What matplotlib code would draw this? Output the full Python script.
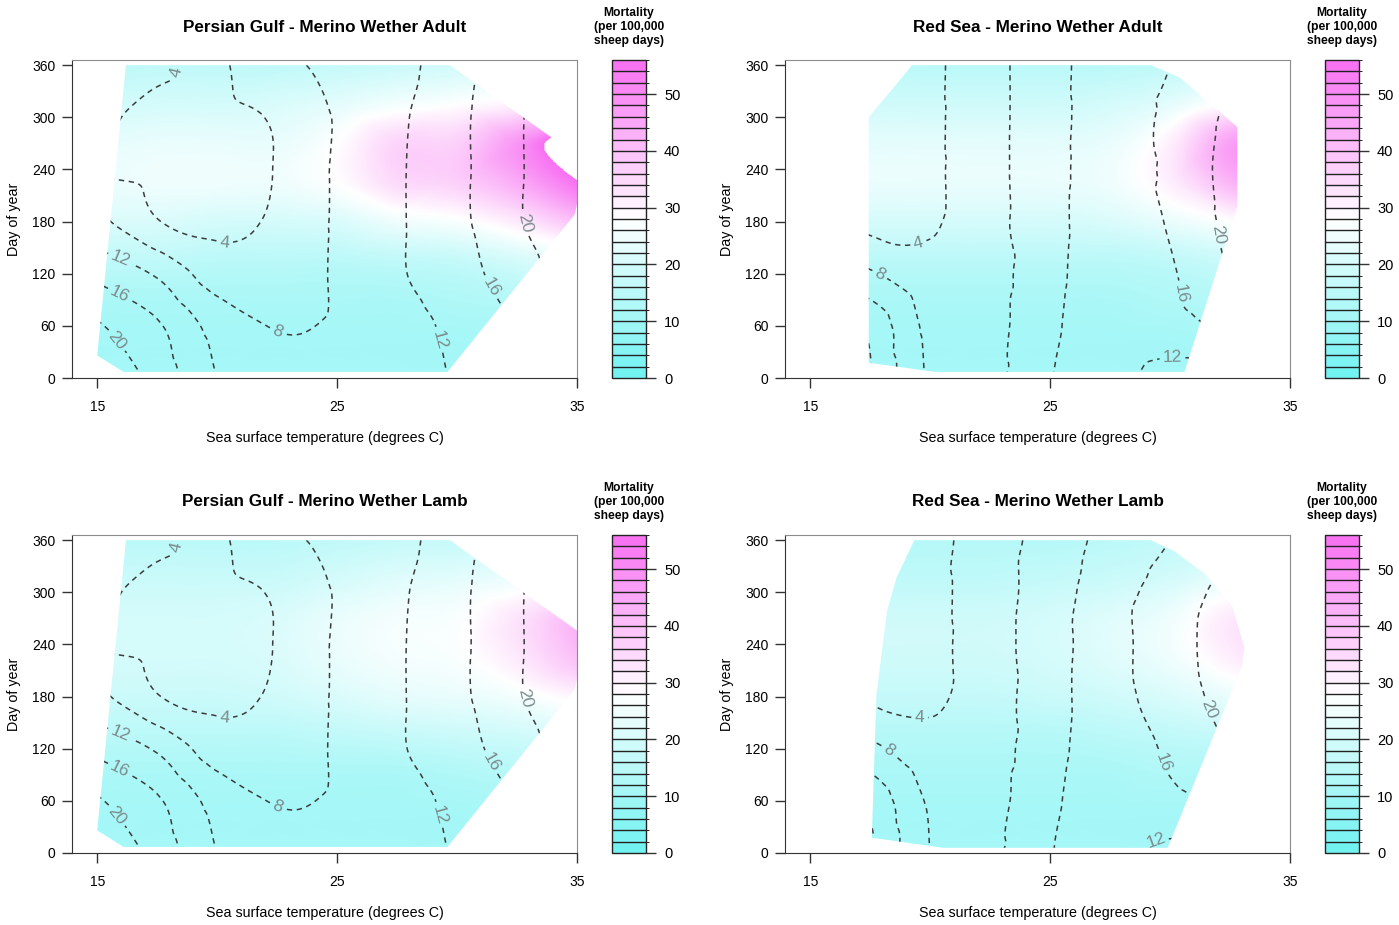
import numpy as np
import matplotlib
matplotlib.use('Agg')
import matplotlib.pyplot as plt
import matplotlib.tri as mtri
from matplotlib.colors import LinearSegmentedColormap, ListedColormap, BoundaryNorm
from matplotlib.cm import ScalarMappable
from matplotlib.patches import Polygon

plt.rcParams['font.family'] = ['Liberation Sans', 'DejaVu Sans']

# ---- data -------------------------------------------------------------
sst_nodes = [15, 17.5, 20, 22.5, 25, 27.5, 30, 32.5, 35]
mort_days = [0, 45, 90, 135, 180, 225, 270, 315, 360]
cont_days = [0, 60, 120, 180, 240, 300, 360]
contour_levels = [4, 8, 12, 16, 20]

titles = ['Persian Gulf - Merino Wether Adult', 'Red Sea - Merino Wether Adult',
          'Persian Gulf - Merino Wether Lamb', 'Red Sea - Merino Wether Lamb']

# sampled voyage envelope (sst, day)
pg_hull_sst = [15.0, 16.1, 29.6, 34.9, 35.0, 35.0, 29.7, 16.2]
pg_hull_day = [26, 7, 7, 188, 200, 256, 360, 360]
rs_adult_hull_sst = [17.44, 20.2, 30.6, 32.8, 32.8, 30.4, 29.2, 19.25, 17.44]
rs_adult_hull_day = [17.6, 7, 7, 197, 289, 346, 360, 360, 300]
rs_lamb_hull_sst = [17.57, 20.55, 29.9, 33.0, 33.1, 32.6, 31.5, 30.2, 29.2, 19.34, 18.6, 18.2, 17.76]
rs_lamb_hull_day = [17.6, 6, 6, 215, 236, 284, 320, 347, 360, 360, 317, 278, 182]

# predicted mortality (rows = mort_days, cols = sst_nodes)
pg_adult_mort = [
    [11, 11, 11, 11, 11, 11, 11, 11, 12],
    [11, 11, 11, 11, 11, 11, 11, 12, 13],
    [12, 12, 12, 12, 12, 12, 13, 14, 16],
    [16, 16, 15, 15, 15, 16, 17, 20, 24],
    [21, 21, 20, 20, 21, 25, 27, 32, 40],
    [24, 25, 25, 25, 28, 35, 37, 44, 55],
    [23, 24, 24, 24, 28, 36, 37, 48, 67],
    [19, 20, 20, 21, 23, 26, 28, 31, 37],
    [15, 16, 16, 16, 17, 18, 19, 20, 22],
]
rs_adult_mort = [
    [11, 11, 11, 11, 11, 11, 11, 11, 12],
    [11, 11, 11, 11, 11, 11, 11, 12, 13],
    [12, 12, 12, 12, 12, 12, 13, 14, 15],
    [15, 15, 15, 15, 15, 15, 16, 18, 20],
    [20, 20, 20, 20, 20, 21, 24, 28, 32],
    [23, 24, 24, 24, 24, 25, 31, 42, 50],
    [22, 23, 23, 23, 23, 24, 31, 46, 54],
    [18, 19, 19, 19, 19, 20, 23, 30, 36],
    [14, 15, 15, 15, 15, 15, 16, 18, 20],
]
pg_lamb_mort = [
    [11, 11, 11, 11, 11, 11, 11, 11, 11],
    [11, 11, 11, 11, 11, 11, 11, 12, 12],
    [12, 12, 12, 12, 12, 12, 13, 14, 15],
    [15, 15, 15, 15, 16, 17, 18, 19, 21],
    [18, 18, 18, 19, 21, 23, 24, 26, 30],
    [20, 20, 20, 21, 24, 26, 27, 32, 40],
    [20, 20, 20, 21, 24, 26, 27, 33, 42],
    [18, 18, 18, 18, 20, 22, 23, 25, 30],
    [15, 15, 15, 15, 16, 17, 17, 18, 20],
]
rs_lamb_mort = [
    [11, 11, 11, 11, 11, 11, 11, 11, 12],
    [11, 11, 11, 11, 11, 11, 11, 12, 12],
    [12, 12, 12, 12, 12, 12, 13, 13, 14],
    [14, 14, 14, 14, 14, 15, 16, 17, 18],
    [17, 17, 17, 17, 18, 19, 21, 24, 26],
    [19, 19, 19, 19, 20, 22, 25, 31, 36],
    [19, 19, 19, 19, 20, 22, 25, 32, 36],
    [16, 16, 16, 16, 17, 18, 20, 24, 27],
    [14, 14, 14, 14, 14, 15, 16, 17, 18],
]

# contoured surface (rows = cont_days, cols = sst_nodes)
pg_contour = [
    [25, 18.5, 12, 9, 9.5, 11, 12.5, 17, 22],
    [20.5, 16.5, 10.5, 7.8, 8.5, 10.5, 13, 16.5, 21],
    [15, 11.5, 6, 5.5, 8.5, 11.5, 14.5, 18, 22.5],
    [9, 4.2, 3.2, 4.6, 8.5, 11.5, 15, 19.5, 23.5],
    [3.6, 3, 2.8, 4.2, 8.5, 11.5, 15, 19.5, 23.5],
    [4.6, 3.2, 3, 4.5, 8.3, 11.3, 15, 19.5, 23.5],
    [6, 4.6, 3.5, 7.2, 8.6, 10.6, 14.5, 19, 23],
]
rs_adult_contour = [
    [26, 16.5, 7.5, 7, 11.8, 13, 10.5, 10, 11],
    [22, 15, 7, 6.8, 11.3, 14, 14.5, 17, 19],
    [12, 8.5, 5.5, 6.5, 10.9, 14.3, 15.6, 20, 23],
    [6, 3, 3.5, 6.8, 10.7, 14.5, 16.3, 21, 24],
    [4, 2.5, 3.3, 6.8, 10.6, 14.5, 16.6, 21.4, 25],
    [4, 2.5, 3.3, 6.8, 10.5, 14.5, 16.6, 20.8, 24],
    [4, 2.5, 3.3, 6.8, 10.5, 14.5, 16, 19, 22],
]
rs_lamb_contour = [
    [26, 17, 8, 7.3, 11.8, 13, 11, 10, 11],
    [22, 15, 7.5, 6.8, 11.3, 14, 15, 17, 19],
    [12, 9, 5.5, 6.3, 10.8, 14.2, 16.5, 20, 23],
    [6, 3.5, 3.3, 6.2, 10.5, 14.5, 17.8, 21.5, 24],
    [4, 2.5, 3.0, 6.3, 10.4, 14.5, 18.3, 22, 25],
    [4, 2.5, 3.0, 6.3, 10, 14.5, 17.5, 21.5, 24],
    [4, 2.5, 2.8, 6.4, 9.4, 13.5, 16, 19, 22],
]

# where the contour labels sit (sst, day)
pg_label_pos = [(18.4, 352), (20.3, 150), (22.4, 45), (16.1, 147), (16.0, 100),
                (15.9, 45), (30.0, 50), (31.6, 108), (33.1, 180)]
rs_adult_label_pos = [(19.65, 141), (17.84, 116), (31.06, 100), (32.1, 165), (30.1, 32)]
rs_lamb_label_pos = [(19.56, 148), (18.13, 113), (30.6, 112), (31.6, 165), (29.4, 16)]

panels = [
    (titles[0], pg_hull_sst, pg_hull_day, pg_adult_mort, pg_contour, pg_label_pos),
    (titles[1], rs_adult_hull_sst, rs_adult_hull_day, rs_adult_mort, rs_adult_contour, rs_adult_label_pos),
    (titles[2], pg_hull_sst, pg_hull_day, pg_lamb_mort, pg_contour, pg_label_pos),
    (titles[3], rs_lamb_hull_sst, rs_lamb_hull_day, rs_lamb_mort, rs_lamb_contour, rs_lamb_label_pos),
]

# ---- helpers ----------------------------------------------------------
W, H = 1399, 925
zmax = 56
cmap = LinearSegmentedColormap.from_list('cw', ['#6EF2F2', '#FFFFFF', '#F86EF2'])
cmap.set_over((1, 1, 1, 0))
cmap.set_bad((1, 1, 1, 0))

gx, gy = np.meshgrid(np.linspace(15, 35, 401), np.linspace(0, 360, 361))


def smooth(days, values):
    nx, ny = np.meshgrid(sst_nodes, days)
    tri = mtri.Triangulation(nx.ravel(), ny.ravel())
    f = mtri.CubicTriInterpolator(tri, np.asarray(values, float).ravel(), kind='geom')
    return f(gx, gy)


def fx(px):
    return px / W


def fy(py):
    return 1 - py / H


fig = plt.figure(figsize=(W / 100, H / 100), dpi=100)

ax_left = [72, 785]
ax_top = [60, 535]
ax_w, ax_h = 505, 318

for i, (title, hs, hd, mort, cont, lab_pos) in enumerate(panels):
    col, row = i % 2, i // 2
    x0, y0 = ax_left[col], ax_top[row]
    ax = fig.add_axes([fx(x0), fy(y0 + ax_h), ax_w / W, ax_h / H])

    hull = Polygon(np.column_stack([hs, hd]), closed=True, transform=ax.transData,
                   fc='none', ec='none')

    m = smooth(mort_days, mort)
    im = ax.imshow(m, extent=(15, 35, 0, 360), origin='lower', cmap=cmap,
                   vmin=0, vmax=zmax, interpolation='bilinear', aspect='auto', zorder=1)
    im.set_clip_path(hull)

    c = smooth(cont_days, cont)
    cs = ax.contour(gx, gy, c, levels=contour_levels, colors='#3c3c3c',
                    linewidths=1.1, zorder=2)
    cs.set_linestyle((0, (3.5, 3)))
    ax.clabel(cs, manual=lab_pos, inline=True, inline_spacing=4, fmt='%d',
              fontsize=12.5, colors='#7b8b8d')
    cs.set_clip_path(hull)

    ax.set_xlim(13.95, 35)
    ax.set_ylim(0, 366)
    ax.set_xticks([15, 25, 35])
    ax.set_yticks(np.arange(0, 361, 60))
    ax.tick_params(direction='out', length=7, width=1, labelsize=10, color='#333333')
    ax.tick_params(axis='x', pad=9)
    ax.tick_params(axis='y', pad=5)
    for s in ['top', 'right']:
        ax.spines[s].set_color('#8c8c8c')
    for s in ['left', 'bottom']:
        ax.spines[s].set_color('#333333')

    cx = x0 + ax_w / 2
    fig.text(fx(cx), fy(y0 - 33), title, ha='center', va='center',
             fontsize=12.3, fontweight='bold')
    fig.text(fx(cx), fy(y0 + 378), 'Sea surface temperature (degrees C)',
             ha='center', va='center', fontsize=10.3)
    fig.text(fx(x0 - 58), fy(y0 + ax_h / 2), 'Day of year', ha='center', va='center',
             rotation=90, fontsize=10.3)

    # colour key
    cbx = x0 + 540
    cax = fig.add_axes([fx(cbx), fy(y0 + ax_h), 34 / W, ax_h / H])
    bounds = np.arange(0, zmax + 1, 2)
    bands = ListedColormap(cmap((bounds[:-1] + 1) / zmax))
    cb = fig.colorbar(ScalarMappable(norm=BoundaryNorm(bounds, bands.N), cmap=bands),
                      cax=cax, drawedges=True, ticks=np.arange(0, 51, 10))
    cb.outline.set_edgecolor('#222222')
    cb.outline.set_linewidth(1.0)
    cb.dividers.set_color('#222222')
    cb.dividers.set_linewidth(1.0)
    cax.tick_params(length=7, width=1, labelsize=10.5, pad=6, color='#333333')
    fig.text(fx(cbx + 17), fy(y0 - 33), 'Mortality\n(per 100,000\nsheep days)',
             ha='center', va='center', fontsize=8.7, fontweight='bold', linespacing=1.25)

fig.savefig('out.png', dpi=100)
